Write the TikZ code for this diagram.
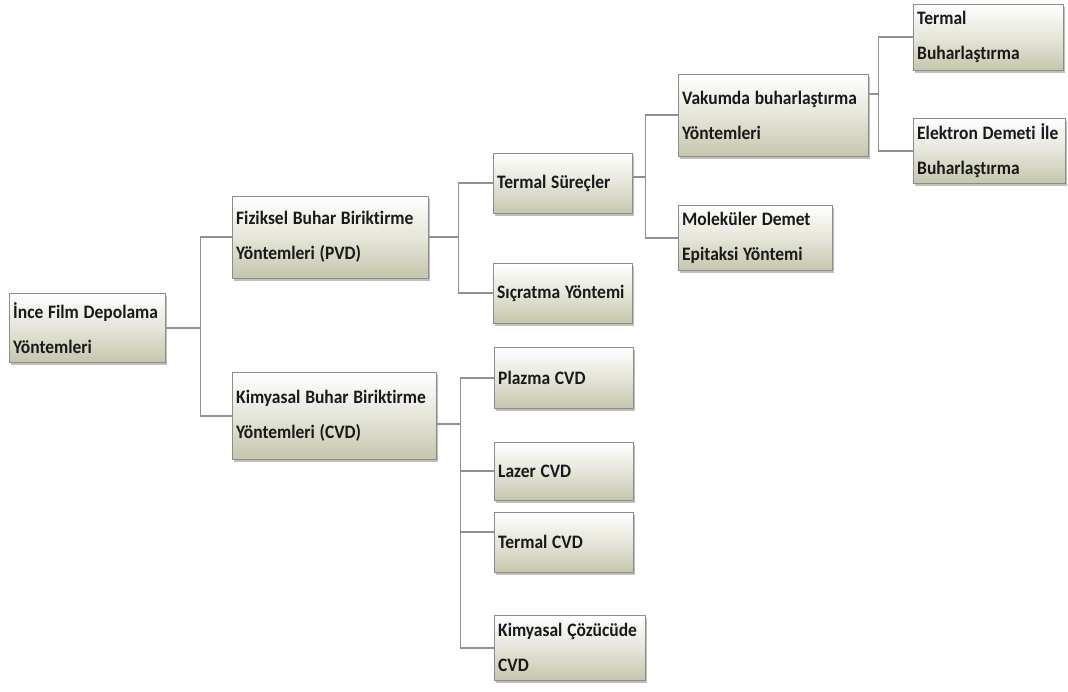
\documentclass[tikz,border=0pt]{standalone}
\usepackage{fontspec}
\setmainfont{Carlito}[FakeStretch=0.92, Ligatures=NoCommon]
\usetikzlibrary{shadows}

\definecolor{kutualt}{RGB}{198,198,172}
\definecolor{cizgi}{RGB}{145,145,145}
\tikzset{
  kutu/.style={shape=rectangle, draw=black!45, anchor=north west, align=left,
    top color=white, bottom color=kutualt, middle color=kutualt!45,
    drop shadow={shadow xshift=2pt, shadow yshift=-2.5pt, opacity=0.5},
    inner xsep=4pt, inner ysep=0pt, text=black!90,
    font=\fontsize{19}{35}\selectfont\bfseries,
    execute at begin node={\spaceskip=0.25em\relax}},
  bag/.style={draw=cizgi, line width=1.6pt}
}

\begin{document}
\begin{tikzpicture}[x=1pt, y=-1pt]
  \useasboundingbox (0,0) rectangle (1068,691);
  \node[kutu, text width=148pt, minimum height=69pt] (kok) at (9,293) {İnce Film Depolama\\Yöntemleri};
  \node[kutu, text width=188pt, minimum height=82pt] (pvd) at (232,196) {Fiziksel Buhar Biriktirme\\Yöntemleri (PVD)};
  \node[kutu, text width=196pt, minimum height=87pt] (cvd) at (232,372) {Kimyasal~Buhar~Biriktirme\\Yöntemleri (CVD)};
  \node[kutu, text width=131pt, minimum height=60pt] (termal) at (493,153) {Termal Süreçler};
  \node[kutu, text width=131pt, minimum height=60pt] (sicratma) at (493,263) {Sıçratma Yöntemi};
  \node[kutu, text width=182pt, minimum height=82pt] (vakum) at (678,74) {Vakumda buharlaştırma\\Yöntemleri};
  \node[kutu, text width=146pt, minimum height=65pt] (molekuler) at (678,205) {Moleküler Demet\\Epitaksi Yöntemi};
  \node[kutu, text width=142pt, minimum height=66pt] (tbuhar) at (913,4) {Termal\\Buharlaştırma};
  \node[kutu, text width=144pt, minimum height=65pt] (elektron) at (913,118) {Elektron~Demeti~İle\\Buharlaştırma};
  \node[kutu, text width=131pt, minimum height=61pt] (plazma) at (494,347) {Plazma CVD};
  \node[kutu, text width=131pt, minimum height=58pt] (lazer) at (494,442) {Lazer CVD};
  \node[kutu, text width=131pt, minimum height=60pt] (tcvd) at (494,512) {Termal CVD};
  \node[kutu, text width=143pt, minimum height=65pt] (kimcoz) at (494,615) {Kimyasal~Çözücüde\\CVD};

  % ana dal
  \path (kok.east) -- ++(35,0) coordinate (d1);
  \draw[bag] (kok.east) -- (d1);
  \draw[bag] (d1) |- (pvd.west);
  \draw[bag] (d1) |- (cvd.west);
  % PVD dali
  \path (pvd.east) -- ++(30,0) coordinate (d2);
  \draw[bag] (pvd.east) -- (d2);
  \draw[bag] (d2) |- (termal.west);
  \draw[bag] (d2) |- (sicratma.west);
  % termal surecler dali
  \path ([yshift=6pt]termal.east) -- ++(13,0) coordinate (d3);
  \draw[bag] ([yshift=6pt]termal.east) -- (d3);
  \draw[bag] (d3) |- (vakum.west);
  \draw[bag] (d3) |- (molekuler.west);
  % vakum dali
  \path ([yshift=21pt]vakum.east) -- ++(10,0) coordinate (d4);
  \draw[bag] ([yshift=21pt]vakum.east) -- (d4);
  \draw[bag] (d4) |- (tbuhar.west);
  \draw[bag] (d4) |- (elektron.west);
  % CVD dali
  \path ([yshift=-8pt]cvd.east) -- ++(24,0) coordinate (d5);
  \draw[bag] ([yshift=-8pt]cvd.east) -- (d5);
  \draw[bag] (d5) |- (plazma.west);
  \draw[bag] (d5) |- (lazer.west);
  \draw[bag] (d5) |- ([yshift=10pt]tcvd.west);
  \draw[bag] (d5) |- (kimcoz.west);
\end{tikzpicture}
\end{document}
